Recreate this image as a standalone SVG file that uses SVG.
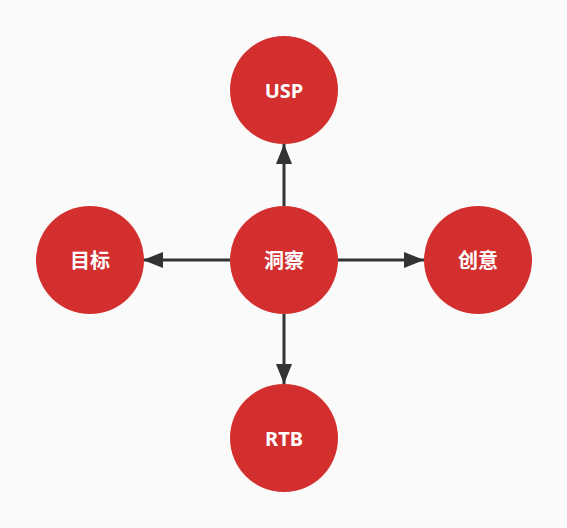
<svg xmlns="http://www.w3.org/2000/svg" width="567" height="528" viewBox="0 0 567 528">
<style>
.node circle{fill:#D32F2F}
.node text{fill:#fff;font-family:"Noto Sans","Noto Sans CJK SC",sans-serif;font-weight:bold;font-size:20px;text-anchor:middle;dominant-baseline:central}
.edge{stroke:#333;stroke-width:3;fill:none;marker-end:url(#arr)}
</style>
<defs>
<marker id="arr" markerWidth="20" markerHeight="16" refX="20" refY="8" orient="auto" markerUnits="userSpaceOnUse">
<path d="M0,0 L20,8 L0,16 Z" fill="#333"/>
</marker>
</defs>
<rect width="567" height="528" fill="#FAFAFA"/>
<g id="connectors">
<line class="edge" x1="284" y1="206" x2="284" y2="144"/>
<line class="edge" x1="230" y1="260" x2="143" y2="260"/>
<line class="edge" x1="338" y1="260" x2="424" y2="260"/>
<line class="edge" x1="284" y1="314" x2="284" y2="384"/>
</g>
<g id="n-center" class="node"><circle cx="284" cy="260" r="54"/><text x="284" y="260">洞察</text></g>
<g id="n-usp" class="node"><circle cx="284" cy="90" r="54"/><text x="284" y="90">USP</text></g>
<g id="n-target" class="node"><circle cx="90" cy="260" r="54"/><text x="90" y="260">目标</text></g>
<g id="n-idea" class="node"><circle cx="478" cy="260" r="54"/><text x="478" y="260">创意</text></g>
<g id="n-rtb" class="node"><circle cx="284" cy="438" r="54"/><text x="284" y="438">RTB</text></g>
</svg>
